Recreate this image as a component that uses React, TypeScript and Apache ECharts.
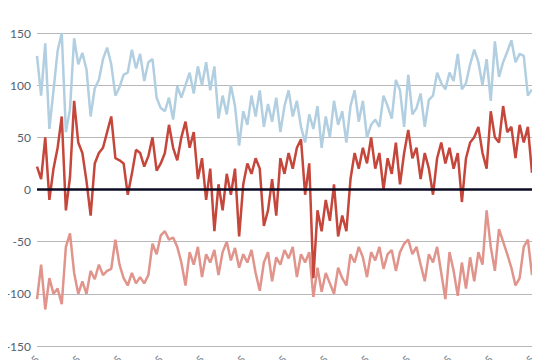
import React, { useEffect, useRef } from "react";
import * as echarts from "echarts";

const monthTicks = ["Jan", "Feb", "Mar", "Apr", "May", "Jun", "Jul", "Aug", "Sep", "Oct", "Nov", "Dec", "Jan"];

const yTicks = { min: -150, max: 150, interval: 50 };

const highSeries = [
  128, 90, 140, 58, 95, 133, 150, 55, 77, 145, 120, 131, 115, 70, 97, 105, 125, 136, 120, 90,
  98, 110, 112, 134, 116, 130, 104, 122, 125, 88, 78, 75, 88, 67, 99, 88, 100, 112, 92, 118,
  100, 122, 95, 118, 68, 90, 72, 100, 80, 42, 75, 62, 90, 70, 95, 60, 82, 65, 88, 55,
  80, 95, 70, 85, 60, 45, 72, 58, 80, 40, 70, 50, 85, 62, 75, 45, 80, 95, 65, 85,
  50, 62, 67, 60, 90, 80, 68, 105, 95, 60, 110, 72, 78, 92, 60, 86, 90, 112, 102, 96,
  112, 104, 130, 96, 102, 120, 134, 122, 100, 125, 85, 142, 108, 122, 132, 143, 122, 130, 128, 90,
  96,
];

const midSeries = [
  22, 10, 50, -10, 20, 40, 70, -20, 12, 85, 45, 35, 8, -25, 25, 35, 40, 55, 70, 30,
  28, 25, -5, 15, 38, 35, 22, 32, 50, 18, 25, 35, 62, 40, 28, 50, 65, 40, 55, 10,
  30, -10, 20, -40, 5, -20, 15, -5, 20, -45, 5, 25, 15, 30, 20, -35, -20, 10, -25, 30,
  15, 35, 20, 40, 48, -5, 25, -85, -20, -40, -10, -30, 5, -45, -25, -40, 10, 35, 20, 40,
  25, 50, 20, 35, 0, 30, 15, 45, 5, 35, 57, 30, 40, 10, 35, 20, -5, 30, 45, 25,
  40, 20, 35, -12, 30, 45, 50, 60, 35, 20, 75, 50, 45, 80, 55, 60, 30, 62, 45, 60,
  16,
];

const lowSeries = [
  -105, -72, -115, -85, -100, -95, -110, -55, -42, -80, -100, -88, -100, -78, -86, -72, -82, -78, -76, -48,
  -72, -85, -92, -80, -90, -84, -90, -82, -52, -62, -44, -40, -48, -46, -55, -70, -92, -60, -72, -55,
  -84, -62, -70, -58, -82, -60, -50, -68, -56, -75, -62, -70, -58, -80, -97, -70, -60, -88, -65, -72,
  -58, -66, -55, -84, -62, -70, -60, -103, -75, -98, -80, -90, -100, -75, -85, -92, -62, -70, -55, -65,
  -84, -60, -68, -55, -76, -62, -58, -78, -60, -52, -48, -62, -55, -72, -88, -62, -70, -55, -80, -105,
  -60, -78, -102, -70, -95, -65, -88, -60, -72, -20, -55, -78, -38, -50, -62, -75, -92, -85, -55, -48,
  -82,
];

const categories = highSeries.map((_, i) => (i % 10 === 0 ? `${monthTicks[i / 10]} 2015` : `d${i}`));

export default function App() {
  const ref = useRef<HTMLDivElement>(null);
  useEffect(() => {
    if (!ref.current) return;
    const chart = echarts.init(ref.current, undefined, { renderer: "svg" });
    chart.setOption({
      animation: false,
      grid: { left: 29, right: 16, top: 25, bottom: 22, containLabel: false, outerBoundsMode: "none" },
      xAxis: {
        type: "category",
        boundaryGap: false,
        data: categories,
        axisLine: { show: false },
        axisTick: { show: false },
        splitLine: { show: false },
        axisLabel: {
          interval: 9,
          rotate: 45,
          margin: 11,
          color: "#7a8590",
          fontSize: 11,
          fontFamily: "Lato",
        },
      },
      yAxis: {
        type: "value",
        min: yTicks.min,
        max: yTicks.max,
        interval: yTicks.interval,
        axisLine: { show: false },
        axisTick: { show: false },
        splitLine: { lineStyle: { color: "#b8b8b8", width: 1 } },
        axisLabel: { color: "#54616d", fontSize: 12, fontFamily: "Lato", margin: 6 },
      },
      series: [
        {
          name: "low",
          type: "line",
          data: lowSeries,
          showSymbol: false,
          lineStyle: { color: "#e0948b", width: 2.5 },
          z: 2,
        },
        {
          name: "mid",
          type: "line",
          data: midSeries,
          showSymbol: false,
          lineStyle: { color: "#c5463a", width: 2.5 },
          z: 3,
        },
        {
          name: "high",
          type: "line",
          data: highSeries,
          showSymbol: false,
          lineStyle: { color: "#b2cfe1", width: 2.5 },
          z: 4,
        },
        {
          name: "zero",
          type: "line",
          data: [],
          z: 10,
          markLine: {
            silent: true,
            symbol: ["none", "none"],
            label: { show: false },
            lineStyle: { color: "#0b0b24", width: 2.5, type: "solid" },
            data: [{ yAxis: 0 }],
          },
        },
      ],
    });
    return () => chart.dispose();
  }, []);
  return <div ref={ref} style={{ width: 540, height: 360 }} />;
}
